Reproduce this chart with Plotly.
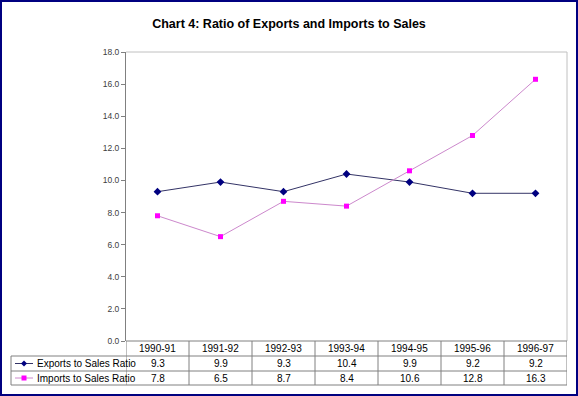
import plotly.graph_objects as go

categories = ["1990-91", "1991-92", "1992-93", "1993-94", "1994-95", "1995-96", "1996-97"]
exports_ratio = [9.3, 9.9, 9.3, 10.4, 9.9, 9.2, 9.2]
imports_ratio = [7.8, 6.5, 8.7, 8.4, 10.6, 12.8, 16.3]
series_names = ["Exports to Sales Ratio", "Imports to Sales Ratio"]

W, H = 578, 396
L, R, T, B = 126, 567, 52, 341
pw, ph = R - L, B - T

def px(x):
    return (x - L) / pw

def py(y):
    return (B - y) / ph

fig = go.Figure()
fig.add_trace(go.Scatter(
    x=list(range(len(categories))), y=exports_ratio, mode="lines+markers",
    name=series_names[0],
    line=dict(color="#333366", width=1),
    marker=dict(symbol="diamond", size=6, color="#000080"),
))
fig.add_trace(go.Scatter(
    x=list(range(len(categories))), y=imports_ratio, mode="lines+markers",
    name=series_names[1],
    line=dict(color="#CC88CC", width=1),
    marker=dict(symbol="square", size=5, color="#FF00FF"),
))

shapes = []
grid = dict(color="#808080", width=1)
# outer navy border
shapes.append(dict(type="rect", xref="paper", yref="paper",
                   x0=px(1), x1=px(W - 1), y0=py(H - 1), y1=py(1),
                   line=dict(color="#000080", width=2)))
# plot area top and right border
shapes.append(dict(type="line", xref="paper", yref="paper",
                   x0=px(L), x1=px(R), y0=py(T), y1=py(T), line=dict(color="#C0C0C0", width=1)))
shapes.append(dict(type="line", xref="paper", yref="paper",
                   x0=px(R), x1=px(R), y0=py(T), y1=py(B), line=dict(color="#C0C0C0", width=1)))

row_y = [341, 356, 371, 385]
# table horizontal lines
shapes.append(dict(type="line", xref="paper", yref="paper",
                   x0=px(L), x1=px(R), y0=py(row_y[0]), y1=py(row_y[0]), line=grid))
for yy in row_y[1:]:
    shapes.append(dict(type="line", xref="paper", yref="paper",
                       x0=px(11), x1=px(R), y0=py(yy), y1=py(yy), line=grid))
# vertical lines
for i in range(len(categories) + 1):
    xx = i - 0.5
    shapes.append(dict(type="line", xref="x", yref="paper",
                       x0=xx, x1=xx, y0=py(row_y[0]), y1=py(row_y[3]), line=grid))
shapes.append(dict(type="line", xref="paper", yref="paper",
                   x0=px(11), x1=px(11), y0=py(row_y[1]), y1=py(row_y[3]), line=grid))

# legend keys
row_c = [348.5, 363.5, 378]
for k, (col, lcol, sym) in enumerate([("#000080", "#333366", "diamond"), ("#FF00FF", "#CC88CC", "square")]):
    yc = row_c[k + 1]
    shapes.append(dict(type="line", xref="paper", yref="paper",
                       x0=px(15), x1=px(33), y0=py(yc), y1=py(yc), line=dict(color=lcol, width=1)))
    cx = 24
    if sym == "diamond":
        path = f"M {px(cx)},{py(yc-3)} L {px(cx+3)},{py(yc)} L {px(cx)},{py(yc+3)} L {px(cx-3)},{py(yc)} Z"
        shapes.append(dict(type="path", xref="paper", yref="paper", path=path,
                           fillcolor=col, line=dict(color=col, width=0)))
    else:
        shapes.append(dict(type="rect", xref="paper", yref="paper",
                           x0=px(cx - 2.5), x1=px(cx + 2.5), y0=py(yc + 2.5), y1=py(yc - 2.5),
                           fillcolor=col, line=dict(color=col, width=0)))

annotations = []
tfont = dict(family="Liberation Sans, Arial", size=10, color="#000000")
for i, c in enumerate(categories):
    annotations.append(dict(x=i, y=py(row_c[0]), xref="x", yref="paper", text=c,
                            showarrow=False, font=tfont, xanchor="center", yanchor="middle"))
    annotations.append(dict(x=i, y=py(row_c[1]), xref="x", yref="paper", text=f"{exports_ratio[i]:.1f}",
                            showarrow=False, font=tfont, xanchor="center", yanchor="middle"))
    annotations.append(dict(x=i, y=py(row_c[2]), xref="x", yref="paper", text=f"{imports_ratio[i]:.1f}",
                            showarrow=False, font=tfont, xanchor="center", yanchor="middle"))
for k, name in enumerate(series_names):
    annotations.append(dict(x=px(35), y=py(row_c[k + 1]), xref="paper", yref="paper", text=name,
                            showarrow=False, font=tfont, xanchor="left", yanchor="middle"))

fig.update_layout(
    width=W, height=H,
    margin=dict(l=L, r=W - R, t=T, b=H - B, pad=0),
    paper_bgcolor="white", plot_bgcolor="white",
    showlegend=False,
    title=dict(text="<b>Chart 4: Ratio of Exports and Imports to Sales</b>",
               x=0.5, xanchor="center", y=1 - 24 / H, yanchor="middle",
               font=dict(family="Liberation Sans, Arial", size=12.5, color="#000000")),
    xaxis=dict(range=[-0.5, len(categories) - 0.5], showticklabels=False, showgrid=False,
               zeroline=False, showline=False, ticks=""),
    yaxis=dict(range=[0, 18], dtick=2, tickformat=".1f", showgrid=False, zeroline=False,
               showline=True, linecolor="#808080", linewidth=1, ticks="outside", ticklen=4,
               tickcolor="#808080",
               tickfont=dict(family="Liberation Sans, Arial", size=8.5, color="#404040")),
    shapes=shapes, annotations=annotations,
)

fig.write_html("out.html", config={"displayModeBar": False},
               post_script="document.body.style.margin='0';document.body.style.overflow='hidden';")
